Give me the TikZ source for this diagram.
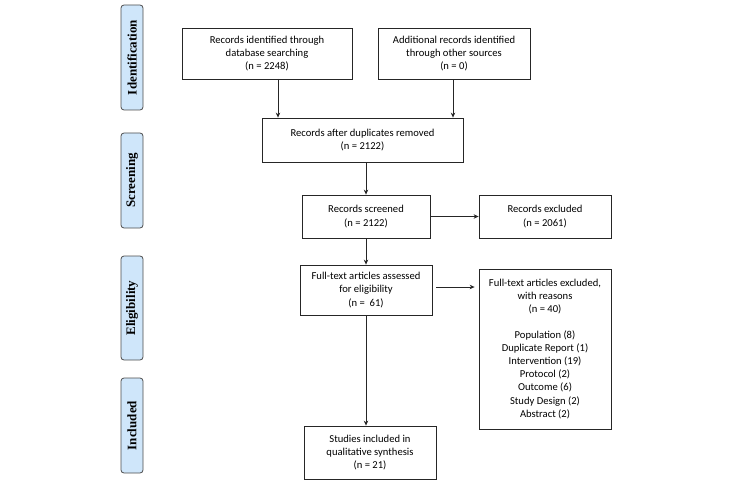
\documentclass[tikz,border=0pt]{standalone}
\usepackage{fontspec}
\setmainfont{Carlito}
\newfontfamily\sideserif{Liberation Serif}
\usetikzlibrary{arrows.meta}
\definecolor{sideblue}{HTML}{CFE6FA}
\tikzset{
  box/.style={draw=black!85, line width=0.8pt, align=center, inner sep=2pt,
    font=\fontsize{10.6}{13.2}\selectfont},
  side/.style={draw=black!70, line width=0.8pt, fill=sideblue, rounded corners=3pt,
    rotate=90, font=\sideserif\bfseries\fontsize{13}{15}\selectfont, inner sep=0pt},
  arr/.style={-{Stealth[length=5pt,width=4.5pt]}, line width=0.8pt, draw=black!85}
}
\begin{document}
\begin{tikzpicture}[x=1pt,y=-1pt]
\useasboundingbox (0,0) rectangle (733,492);
% side labels
\node[side, minimum width=105pt, minimum height=22pt] (sid) at (132,57.5) {Identification};
\node[side, minimum width=95pt, minimum height=22pt] (sscr) at (132,180.5) {Screening};
\node[side, minimum width=104pt, minimum height=22pt] (selig) at (132,308) {Eligibility};
\node[side, minimum width=95pt, minimum height=22pt] (sinc) at (132,425.5) {Included};
% boxes
\node[box, minimum width=170pt, minimum height=51pt] (db) at (267,53.5) {Records identified through\\database searching\\(n = 2248)};
\node[box, minimum width=152pt, minimum height=51pt] (other) at (454,53.5) {Additional records identified\\through other sources\\(n = 0)};
\node[box, minimum width=201pt, minimum height=44pt] (dup) at (362.5,140) {Records after duplicates removed\\(n = 2122)};
\node[box, minimum width=128pt, minimum height=43pt] (scr) at (366,216.5) {Records screened\\(n = 2122)};
\node[box, minimum width=132pt, minimum height=43pt] (exc1) at (545,216.5) {Records excluded\\(n = 2061)};
\node[box, minimum width=132pt, minimum height=50pt] (full) at (366,290) {Full-text articles assessed\\for eligibility\\(n =\ \ 61)};
\node[box, minimum width=132pt, minimum height=160pt] (exc2) at (545,349) {Full-text articles excluded,\\with reasons\\(n = 40)\\[12pt]Population (8)\\Duplicate Report (1)\\Intervention (19)\\Protocol (2)\\Outcome (6)\\Study Design (2)\\Abstract (2)};
\node[box, minimum width=132pt, minimum height=53pt] (inc) at (370,452.5) {Studies included in\\qualitative synthesis\\(n = 21)};
% connectors
\coordinate (a1) at (278,79);
\draw[arr] (a1) -- (a1 |- dup.north);
\draw[arr] (other.south -| 453,0) -- (453,0 |- dup.north);
\draw[arr] (dup.south -| 366,0) -- (scr.north);
\draw[arr] (scr.east) -- (exc1.west |- scr.east);
\draw[arr] (scr.south) -- (full.north);
\draw[arr] ([shift={(4,-3)}]full.east) -- ([shift={(-4,0)}]exc2.west |- 0,287);
\draw[arr] (full.south) -- (full.south |- inc.north);
\end{tikzpicture}
\end{document}
